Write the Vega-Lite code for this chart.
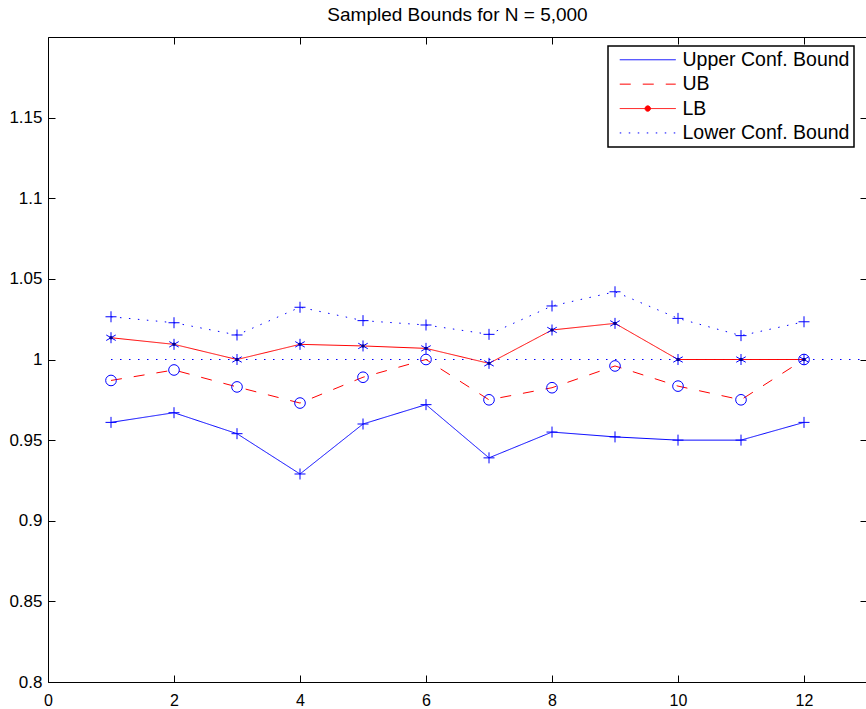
{
  "$schema": "https://vega.github.io/schema/vega-lite/v6.json",
  "width": 819,
  "height": 645,
  "autosize": {"type": "none"},
  "padding": {"left": 48, "top": 37, "right": 0, "bottom": 27},
  "background": "white",
  "title": {"text": "Sampled Bounds for N = 5,000", "font": "Liberation Sans", "fontSize": 19, "fontWeight": "normal", "color": "black", "anchor": "middle", "baseline": "alphabetic", "offset": -3},
  "config": {
    "view": {"stroke": "black", "strokeWidth": 1},
    "axis": {"domain": false, "grid": false, "tickColor": "black", "tickSize": -7, "tickWidth": 1, "labelFont": "Liberation Sans", "labelFontSize": 16, "labelColor": "black", "title": null},
    "legend": {"orient": "none", "legendX": 560, "legendY": 9, "strokeColor": "black", "fillColor": "white", "padding": 4, "labelFont": "Liberation Sans", "labelFontSize": 19.5, "labelColor": "black", "labelLimit": 400, "labelOffset": 25, "symbolSize": 324, "symbolStrokeWidth": 1, "symbolType": "M-3.11,0H3.11", "symbolOffset": 26, "rowPadding": 3.4, "title": null}
  },
  "datasets": {
    "series": [
      {"x": 1, "series": "Upper Conf. Bound", "y": 0.961},
      {"x": 2, "series": "Upper Conf. Bound", "y": 0.967},
      {"x": 3, "series": "Upper Conf. Bound", "y": 0.954},
      {"x": 4, "series": "Upper Conf. Bound", "y": 0.929},
      {"x": 5, "series": "Upper Conf. Bound", "y": 0.960},
      {"x": 6, "series": "Upper Conf. Bound", "y": 0.972},
      {"x": 7, "series": "Upper Conf. Bound", "y": 0.939},
      {"x": 8, "series": "Upper Conf. Bound", "y": 0.955},
      {"x": 9, "series": "Upper Conf. Bound", "y": 0.952},
      {"x": 10, "series": "Upper Conf. Bound", "y": 0.950},
      {"x": 11, "series": "Upper Conf. Bound", "y": 0.950},
      {"x": 12, "series": "Upper Conf. Bound", "y": 0.961},
      {"x": 1, "series": "UB", "y": 0.987},
      {"x": 2, "series": "UB", "y": 0.9935},
      {"x": 3, "series": "UB", "y": 0.983},
      {"x": 4, "series": "UB", "y": 0.973},
      {"x": 5, "series": "UB", "y": 0.989},
      {"x": 6, "series": "UB", "y": 1.0},
      {"x": 7, "series": "UB", "y": 0.975},
      {"x": 8, "series": "UB", "y": 0.9825},
      {"x": 9, "series": "UB", "y": 0.996},
      {"x": 10, "series": "UB", "y": 0.9835},
      {"x": 11, "series": "UB", "y": 0.975},
      {"x": 12, "series": "UB", "y": 1.0},
      {"x": 1, "series": "LB", "y": 1.0135},
      {"x": 2, "series": "LB", "y": 1.0094},
      {"x": 3, "series": "LB", "y": 1.0},
      {"x": 4, "series": "LB", "y": 1.0094},
      {"x": 5, "series": "LB", "y": 1.0084},
      {"x": 6, "series": "LB", "y": 1.0069},
      {"x": 7, "series": "LB", "y": 0.9976},
      {"x": 8, "series": "LB", "y": 1.0183},
      {"x": 9, "series": "LB", "y": 1.0224},
      {"x": 10, "series": "LB", "y": 1.0},
      {"x": 11, "series": "LB", "y": 1.0},
      {"x": 12, "series": "LB", "y": 1.0},
      {"x": 1, "series": "Lower Conf. Bound", "y": 1.0265},
      {"x": 2, "series": "Lower Conf. Bound", "y": 1.0228},
      {"x": 3, "series": "Lower Conf. Bound", "y": 1.0152},
      {"x": 4, "series": "Lower Conf. Bound", "y": 1.0324},
      {"x": 5, "series": "Lower Conf. Bound", "y": 1.0241},
      {"x": 6, "series": "Lower Conf. Bound", "y": 1.0214},
      {"x": 7, "series": "Lower Conf. Bound", "y": 1.0156},
      {"x": 8, "series": "Lower Conf. Bound", "y": 1.0332},
      {"x": 9, "series": "Lower Conf. Bound", "y": 1.042},
      {"x": 10, "series": "Lower Conf. Bound", "y": 1.0255},
      {"x": 11, "series": "Lower Conf. Bound", "y": 1.0148},
      {"x": 12, "series": "Lower Conf. Bound", "y": 1.0234}
    ],
    "ref": [
      {"x": 1, "y": 1.0},
      {"x": 13, "y": 1.0}
    ]
  },
  "resolve": {"axis": {"x": "independent", "y": "independent"}},
  "layer": [
    {
      "data": {"name": "ref"},
      "mark": {"type": "line", "color": "#0000ff", "strokeWidth": 1, "strokeDash": [1.5, 7.5]},
      "encoding": {
        "x": {"field": "x", "type": "quantitative", "scale": {"domain": [0, 13], "nice": false, "zero": false}, "axis": {"orient": "bottom", "values": [0, 2, 4, 6, 8, 10, 12], "labelPadding": 17, "labelFlush": false}},
        "y": {"field": "y", "type": "quantitative", "scale": {"domain": [0.8, 1.2], "nice": false, "zero": false}, "axis": {"orient": "left", "values": [0.8, 0.85, 0.9, 0.95, 1.0, 1.05, 1.1, 1.15], "format": "~g", "labelPadding": 13, "labelFontSize": 17, "labelFlush": false}}
      }
    },
    {
      "data": {"name": "series"},
      "mark": {"type": "line", "strokeWidth": 1},
      "encoding": {
        "x": {"field": "x", "type": "quantitative", "axis": {"orient": "top", "values": [0, 2, 4, 6, 8, 10, 12], "labels": false}},
        "y": {"field": "y", "type": "quantitative", "axis": {"orient": "right", "values": [0.8, 0.85, 0.9, 0.95, 1.0, 1.05, 1.1, 1.15], "labels": false}},
        "color": {"field": "series", "type": "nominal", "sort": null, "scale": {"domain": ["Upper Conf. Bound", "UB", "LB", "Lower Conf. Bound"], "range": ["#0000ff", "#ff0000", "#ff0000", "#0000ff"]},
          "legend": {"encode": {"symbols": {"update": {
            "shape": {"signal": "datum.value === 'LB' ? 'M-3.11,0H3.11M-0.3,0A0.3,0.3 0 1,0 0.3,0A0.3,0.3 0 1,0 -0.3,0Z' : 'M-3.11,0H3.11'"},
            "fill": {"signal": "datum.value === 'LB' ? '#ff0000' : 'transparent'"}
          }}, "legend": {"update": {"strokeWidth": {"value": 1.5}}}}}},
        "strokeDash": {"field": "series", "type": "nominal", "sort": null, "scale": {"domain": ["Upper Conf. Bound", "UB", "LB", "Lower Conf. Bound"], "range": [[1, 0], [11, 12], [1, 0], [1.5, 7.5]]}}
      }
    },
    {
      "data": {"name": "series"},
      "transform": [{"filter": "datum.series === 'Upper Conf. Bound' || datum.series === 'Lower Conf. Bound'"}],
      "mark": {"type": "point", "shape": "M-1,0H1M0,-1V1", "size": 121, "filled": false, "stroke": "#0000ff", "strokeWidth": 1, "opacity": 1},
      "encoding": {
        "x": {"field": "x", "type": "quantitative", "axis": null},
        "y": {"field": "y", "type": "quantitative", "axis": null}
      }
    },
    {
      "data": {"name": "series"},
      "transform": [{"filter": "datum.series === 'UB'"}],
      "mark": {"type": "point", "shape": "circle", "size": 113, "filled": false, "stroke": "#0000ff", "strokeWidth": 1, "opacity": 1},
      "encoding": {
        "x": {"field": "x", "type": "quantitative", "axis": null},
        "y": {"field": "y", "type": "quantitative", "axis": null}
      }
    },
    {
      "data": {"name": "series"},
      "transform": [{"filter": "datum.series === 'LB'"}],
      "mark": {"type": "point", "shape": "M0,-1V1M-0.866,-0.5L0.866,0.5M-0.866,0.5L0.866,-0.5", "size": 121, "filled": false, "stroke": "#0000ff", "strokeWidth": 1, "opacity": 1},
      "encoding": {
        "x": {"field": "x", "type": "quantitative", "axis": null},
        "y": {"field": "y", "type": "quantitative", "axis": null}
      }
    },
    {
      "data": {"name": "series"},
      "transform": [{"filter": "datum.series === 'LB'"}],
      "mark": {"type": "point", "shape": "circle", "size": 12, "filled": true, "fill": "#00008b", "strokeWidth": 0, "opacity": 1},
      "encoding": {
        "x": {"field": "x", "type": "quantitative", "axis": null},
        "y": {"field": "y", "type": "quantitative", "axis": null}
      }
    }
  ]
}
